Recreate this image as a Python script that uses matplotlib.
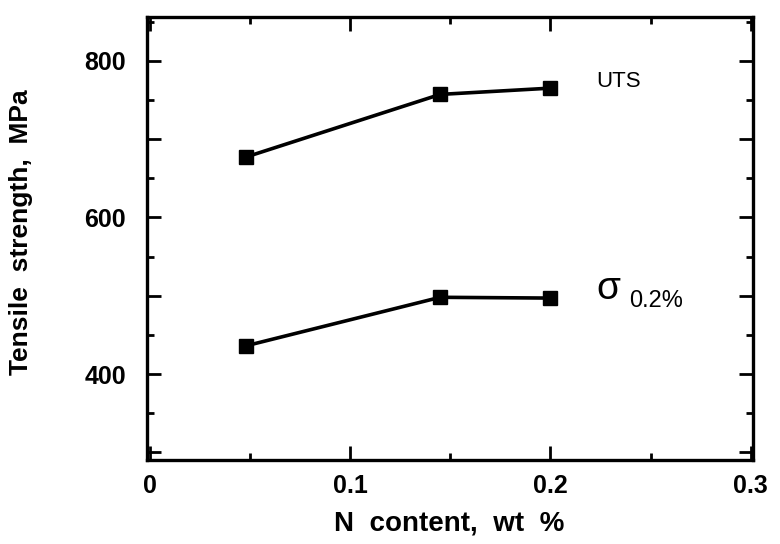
import matplotlib
matplotlib.use("Agg")
import matplotlib.pyplot as plt
from matplotlib.ticker import MultipleLocator, FuncFormatter

n_content = [0.048, 0.145, 0.200]
uts = [677, 757, 765]
sigma02 = [436, 498, 497]

x_ticks = [0, 0.1, 0.2, 0.3]
x_ticklabels = ["0", "0.1", "0.2", "0.3"]
y_labeled = [400, 600, 800]

plt.rcParams['font.family'] = ['Liberation Sans', 'DejaVu Sans']

fig = plt.figure(figsize=(7.8, 5.44), dpi=100)
ax = fig.add_axes([0.188, 0.154, 0.777, 0.815])

ax.plot(n_content, uts, color='black', lw=2.6, marker='s', ms=10, mfc='black', mec='black')
ax.plot(n_content, sigma02, color='black', lw=2.6, marker='s', ms=10, mfc='black', mec='black')

ax.set_xlim(-0.0015, 0.301)
ax.set_ylim(290, 856)

ax.set_xticks(x_ticks)
ax.set_xticklabels(x_ticklabels)
ax.xaxis.set_minor_locator(MultipleLocator(0.05))
ax.yaxis.set_major_locator(MultipleLocator(100))
ax.yaxis.set_minor_locator(MultipleLocator(50))
ax.yaxis.set_major_formatter(FuncFormatter(lambda v, p: f"{int(round(v))}" if int(round(v)) in y_labeled else ""))

ax.tick_params(which='both', direction='in', top=True, right=True, width=2)
ax.tick_params(which='major', length=10, labelsize=18)
ax.tick_params(axis='x', which='major', pad=10)
ax.tick_params(axis='y', which='major', pad=15)
ax.tick_params(which='minor', length=5)
for lab in ax.get_xticklabels() + ax.get_yticklabels():
    lab.set_fontweight('bold')
for s in ax.spines.values():
    s.set_linewidth(2.4)

ax.set_xlabel("N  content,  wt  %", fontsize=20, fontweight='bold', labelpad=9)
ax.set_ylabel("Tensile  strength,  MPa", fontsize=19, fontweight='bold')
ax.yaxis.set_label_coords(-0.187, 0.515)

ax.text(0.223, 774, "UTS", fontsize=16, ha='left', va='center')
ax.text(0.223, 508, "σ", fontsize=28, ha='left', va='center')
ax.text(0.2395, 493, "0.2%", fontsize=17, ha='left', va='center')

fig.savefig("out.png", dpi=100)
